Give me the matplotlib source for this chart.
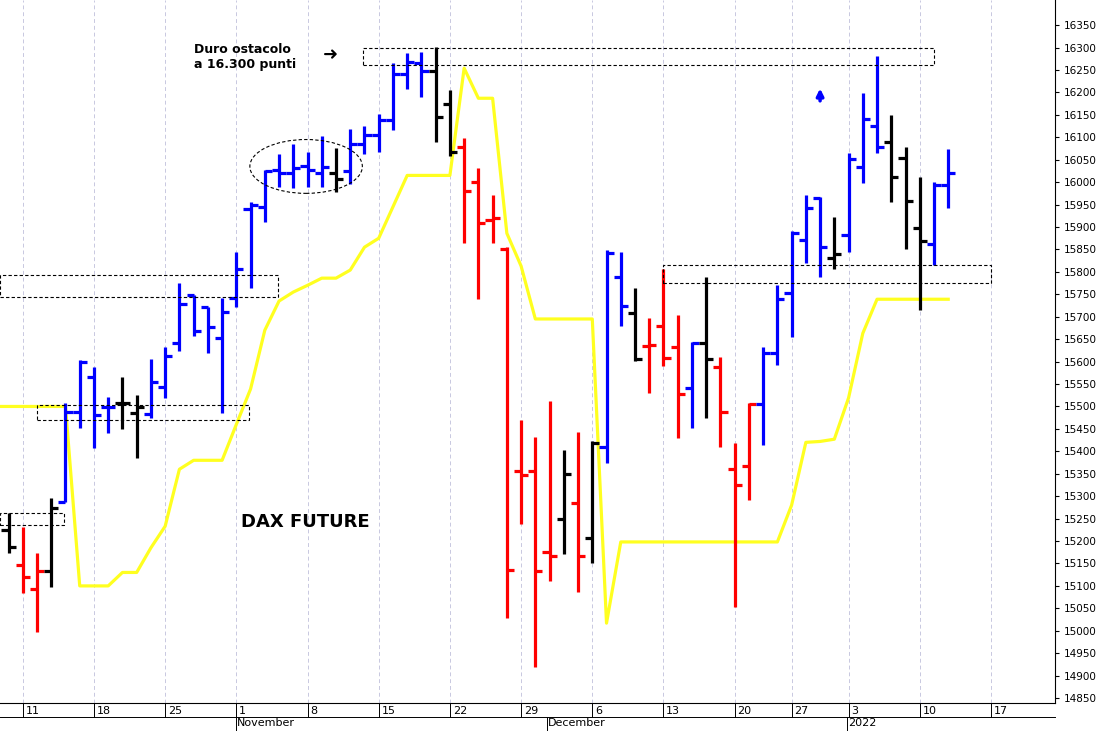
import numpy as np
import pandas as pd
from matplotlib import pyplot as plt
from matplotlib.patches import Rectangle, Ellipse
from matplotlib.transforms import blended_transform_factory

# trading days shown (Dec 24 and Dec 31 closed)
dates = [d for d in pd.bdate_range("2021-10-08", "2022-01-12")
         if d.strftime("%m-%d") not in ("12-24", "12-31")]

opens = [15224, 15146, 15093, 15133, 15287, 15487, 15566, 15498, 15507, 15485,
         15483, 15543, 15641, 15748, 15721, 15652, 15741, 15940, 15944, 16027,
         16020, 16035, 16020, 16020, 16024, 16085, 16105, 16138, 16242, 16265,
         16247, 16174, 16078, 16000, 15915, 15850, 15356, 15356, 15175, 15249,
         15285, 15207, 15409, 15789, 15708, 15634, 15679, 15632, 15541, 15641,
         15588, 15360, 15367, 15505, 15619, 15753, 15871, 15965, 15832, 15882,
         16034, 16125, 16089, 16053, 15898, 15862, 15993]
highs = [15262, 15231, 15173, 15296, 15507, 15603, 15588, 15520, 15565, 15525,
         15605, 15632, 15775, 15748, 15721, 15741, 15844, 15955, 16027, 16063,
         16085, 16067, 16102, 16076, 16118, 16125, 16151, 16265, 16287, 16290,
         16301, 16205, 16098, 16031, 15971, 15855, 15470, 15432, 15513, 15403,
         15443, 15423, 15849, 15844, 15764, 15697, 15806, 15703, 15643, 15788,
         15610, 15418, 15507, 15632, 15770, 15890, 15971, 15967, 15922, 16065,
         16199, 16281, 16149, 16078, 16011, 16000, 16074]
lows = [15173, 15084, 14997, 15097, 15287, 15452, 15407, 15440, 15450, 15385,
        15474, 15518, 15623, 15656, 15619, 15485, 15721, 15764, 15911, 15989,
        15986, 15989, 15989, 15978, 15996, 16063, 16067, 16116, 16207, 16190,
        16090, 16058, 15864, 15739, 15864, 15028, 15238, 14919, 15110, 15171,
        15087, 15151, 15374, 15679, 15601, 15530, 15590, 15429, 15452, 15474,
        15410, 15052, 15291, 15414, 15592, 15655, 15820, 15788, 15806, 15844,
        15998, 16065, 15955, 15851, 15715, 15815, 15942]
closes = [15187, 15120, 15133, 15273, 15487, 15600, 15480, 15498, 15507, 15498,
          15554, 15612, 15728, 15668, 15677, 15710, 15806, 15950, 16025, 16020,
          16032, 16028, 16034, 16006, 16085, 16105, 16138, 16242, 16267, 16247,
          16145, 16067, 15980, 15909, 15920, 15135, 15347, 15133, 15167, 15349,
          15167, 15418, 15842, 15724, 15605, 15637, 15608, 15528, 15641, 15605,
          15487, 15325, 15505, 15619, 15739, 15886, 15942, 15855, 15840, 16052,
          16141, 16078, 16011, 15958, 15869, 15993, 16020]
colors = ["k", "r", "r", "k", "b", "b", "b", "b", "k", "k",
          "b", "b", "b", "b", "b", "b", "b", "b", "b", "b",
          "b", "b", "b", "k", "b", "b", "b", "b", "b", "b",
          "k", "k", "r", "r", "r", "r", "r", "r", "r", "k",
          "r", "k", "b", "b", "k", "r", "r", "r", "b", "k",
          "r", "r", "r", "b", "b", "b", "b", "b", "k", "b",
          "b", "b", "k", "k", "k", "b", "b"]
stop_line = [15500, 15500, 15500, 15500, 15500, 15100, 15100, 15100, 15130, 15130,
             15185, 15233, 15360, 15380, 15380, 15380, 15460, 15539, 15670, 15735,
             15755, 15770, 15786, 15786, 15804, 15855, 15875, 15945, 16015, 16015,
             16015, 16015, 16254, 16187, 16187, 15886, 15813, 15695, 15695, 15695,
             15695, 15695, 15017, 15198, 15198, 15198, 15198, 15198, 15198, 15198,
             15198, 15198, 15198, 15198, 15198, 15280, 15420, 15422, 15427, 15519,
             15663, 15739, 15739, 15739, 15739, 15739, 15739]

cmap = {"b": "#0000ff", "r": "#ff0000", "k": "#000000"}
x = np.arange(len(dates))

fig = plt.figure(figsize=(11.03, 7.31), dpi=100)
ax = fig.add_axes([0, 28 / 731, 1055 / 1103, 703 / 731])

# weekly gridlines on Mondays
mondays = [i for i, d in enumerate(dates) if d.weekday() == 0] + [len(dates) + 2]
for m in mondays:
    ax.axvline(m, color="#c8c8e0", lw=0.7, ls=(0, (4, 3)), zorder=0)

ax.plot(np.r_[-0.6, x], np.r_[stop_line[0], stop_line], color="#ffff20", lw=2.3, zorder=2)

for i in x:
    c = cmap[colors[i]]
    ax.vlines(i, lows[i], highs[i], color=c, lw=2.3, zorder=3)
    ax.hlines(opens[i], i - 0.5, i, color=c, lw=2.3, zorder=3)
    ax.hlines(closes[i], i, i + 0.5, color=c, lw=2.3, zorder=3)

# support / resistance boxes
boxes = [(24.9, 16260, 65.0, 16300), (-0.6, 15743, 18.9, 15793), (2.0, 15470, 16.9, 15503),
         (-0.6, 15236, 3.9, 15262), (46.0, 15775, 69.0, 15815)]
for x0, y0, x1, y1 in boxes:
    ax.add_patch(Rectangle((x0, y0), x1 - x0, y1 - y0, fill=False, ec="black",
                           lw=0.8, ls=(0, (3, 2)), zorder=4))
ax.add_patch(Ellipse((20.9, 16035), 7.9, 120, fill=False, ec="black", lw=0.8,
                     ls=(0, (3, 2)), zorder=4))

ax.text(13.0, 16278, "Duro ostacolo\na 16.300 punti", fontsize=9, fontweight="bold",
        ha="left", va="center", linespacing=1.2)
ax.text(22.1, 16283, "\u279c", fontsize=13, ha="left", va="center")
ax.annotate("", xy=(57.0, 16215), xytext=(57.0, 16175),
            arrowprops=dict(arrowstyle="-|>", color="#0000ff", lw=2.5, mutation_scale=10))
ax.text(16.3, 15243, "DAX FUTURE", fontsize=13, fontweight="bold", ha="left", va="center")

ax.set_xlim(-0.6, 73.5)
ax.set_ylim(14839, 16406)
ax.yaxis.tick_right()
ax.set_yticks(np.arange(14850, 16351, 50))
ax.tick_params(axis="y", labelsize=7.5, length=3, direction="out")
ax.set_xticks([])
for s in ["top", "left"]:
    ax.spines[s].set_visible(False)

# date axis rows
tr = blended_transform_factory(ax.transData, ax.transAxes)
for m in mondays:
    label = (dates[m] if m < len(dates) else pd.Timestamp("2022-01-17")).day
    ax.text(m + 0.2, -0.004, str(label), transform=tr, fontsize=8, ha="left", va="top")
    ax.plot([m, m], [0, -0.02], transform=tr, color="black", lw=0.7, clip_on=False)
ax.plot([-0.6, 73.5], [-0.02, -0.02], transform=tr, color="black", lw=0.7, clip_on=False)
for pos, name in [(15.95, "November"), (37.8, "December"), (58.9, "2022")]:
    ax.plot([pos, pos], [-0.02, -0.045], transform=tr, color="black", lw=0.7, clip_on=False)
    ax.text(pos + 0.1, -0.022, name, transform=tr, fontsize=8, ha="left", va="top")

fig.savefig("out.png", dpi=100)
